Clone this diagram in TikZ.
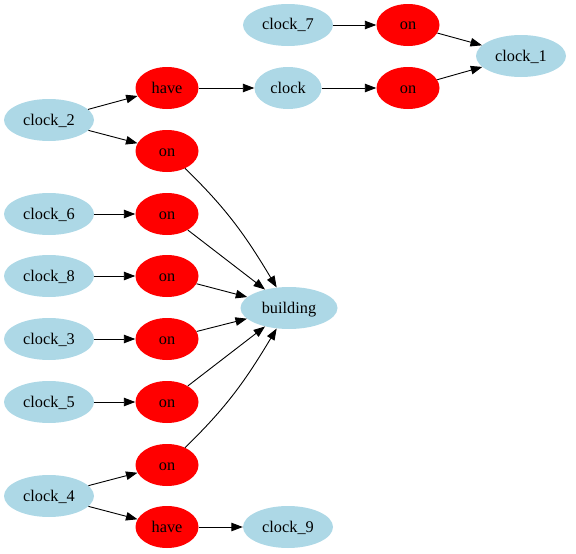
\documentclass[tikz,border=0pt]{standalone}
\usepackage{fontspec}
\setmainfont{Liberation Serif}
\usetikzlibrary{arrows.meta,shapes.geometric}
\definecolor{nodeblue}{HTML}{ADD8E6}
\definecolor{nodered}{HTML}{FF0000}
\begin{document}
\begin{tikzpicture}[x=1pt,y=-1pt,
  every node/.style={ellipse, minimum height=42pt, inner sep=0pt,
    text height=11pt, text depth=1pt,
    font=\fontsize{16.3}{19}\selectfont},
  entity/.style={fill=nodeblue, minimum width=90pt},
  relation/.style={fill=nodered, minimum width=63pt},
  link/.style={draw=black, line width=0.9pt,
    -{Triangle[length=11.5pt,width=8.5pt]}}]
\useasboundingbox (0,0) rectangle (576,554);
% entities
\node[entity] (c7) at (288,25) {clock\_7};
\node[entity] (c1) at (521,56) {clock\_1};
\node[entity] (c2) at (49,120) {clock\_2};
\node[entity, minimum width=67pt] (clk) at (288,88) {clock};
\node[entity] (c6) at (49,214) {clock\_6};
\node[entity] (c8) at (49,276) {clock\_8};
\node[entity, minimum width=97pt] (bld) at (289,308) {building};
\node[entity] (c3) at (49,339) {clock\_3};
\node[entity] (c5) at (49,402) {clock\_5};
\node[entity] (c4) at (49,496) {clock\_4};
\node[entity] (c9) at (288,527) {clock\_9};
% relations
\node[relation] (onA) at (408,25) {on};
\node[relation] (haveA) at (167,88) {have};
\node[relation] (onB) at (408,88) {on};
\node[relation] (onC) at (167,151) {on};
\node[relation] (onD) at (167,214) {on};
\node[relation] (onE) at (167,276) {on};
\node[relation] (onF) at (167,339) {on};
\node[relation] (onG) at (167,402) {on};
\node[relation] (onH) at (167,465) {on};
\node[relation] (haveB) at (167,527) {have};
% connectors
\draw[link] (c7) -- (onA);
\draw[link] (onA) -- (c1);
\draw[link] (onB) -- (c1);
\draw[link] (c2) -- (haveA);
\draw[link] (haveA) -- (clk);
\draw[link] (clk) -- (onB);
\draw[link] (c2) -- (onC);
\draw[link] (c6) -- (onD);
\draw[link] (c8) -- (onE);
\draw[link] (c3) -- (onF);
\draw[link] (c5) -- (onG);
\draw[link] (c4) -- (onH);
\draw[link] (c4) -- (haveB);
\draw[link] (haveB) -- (c9);
\draw[link] (onC) to[out=-44, in=121] (bld);
\draw[link] (onD) -- (bld);
\draw[link] (onE) -- (bld);
\draw[link] (onF) -- (bld);
\draw[link] (onG) -- (bld);
\draw[link] (onH) to[out=44, in=-121] (bld);
\end{tikzpicture}
\end{document}
